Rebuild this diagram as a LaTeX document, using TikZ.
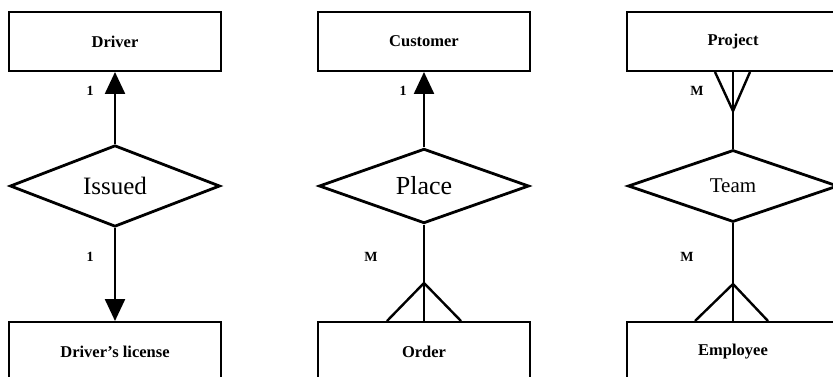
\documentclass[tikz,border=0pt]{standalone}
\usepackage{fontspec}
\setmainfont{Liberation Serif}
\usetikzlibrary{shapes.geometric,arrows.meta,calc}
\begin{document}
\begin{tikzpicture}[x=1pt,y=-1pt,
  entity/.style={draw,line width=2pt,minimum width=212pt,minimum height=59pt,
    inner sep=0pt,font=\bfseries\fontsize{16.5}{18}\selectfont},
  relation/.style={draw,diamond,line width=2.8pt,minimum width=210pt,
    minimum height=72pt,inner sep=0pt},
  link/.style={line width=2.4pt},
  onearrow/.style={link,-{Triangle[width=20pt,length=22pt]}},
  card/.style={font=\bfseries\fontsize{14}{16}\selectfont}
]
\useasboundingbox (0,0) rectangle (833,377);
\fill[white] (0,0) rectangle (833,377);
\clip (0,0) rectangle (833,377);

% --- one-to-one: Driver / Driver's license ---
\node[entity] (driver) at (115,41.5) {Driver};
\node[relation,font=\fontsize{25}{28}\selectfont] (issued) at (115,186) {Issued};
\node[entity] (license) at (115,351.5) {Driver's license};
\draw[onearrow] (issued.north) -- (driver.south);
\draw[onearrow] (issued.south) -- (license.north);
\node[card] (c1) at (90,91) {1};
\node[card] (c2) at (90,257) {1};

% --- one-to-many: Customer / Order ---
\node[entity] (customer) at (424,41.5) {Customer};
\node[relation,font=\fontsize{26}{28}\selectfont] (place) at (424,186) {Place};
\node[entity] (order) at (424,351.5) {Order};
\draw[onearrow] (place.north) -- (customer.south);
\draw[link] (place.south) -- (order.north);
\coordinate (oa) at ($(order.north)+(0,-38)$);
\draw[link] ($(order.north)+(-37,0)$) -- (oa) -- ($(order.north)+(37,0)$);
\node[card] (c3) at (403,91) {1};
\node[card] (c4) at (371,257) {M};

% --- many-to-many: Project / Employee ---
\node[entity] (project) at (733,41.5) {Project};
\node[relation,font=\fontsize{21}{24}\selectfont] (team) at (733,186) {Team};
\node[entity] (employee) at (733,351.5) {Employee};
\draw[link] (team.north) -- (project.south);
\coordinate (pa) at ($(project.south)+(0,39)$);
\draw[link] ($(project.south)+(-18,0)$) -- (pa) -- ($(project.south)+(17,0)$);
\draw[link] (team.south) -- (employee.north);
\coordinate (ea) at ($(employee.north)+(0,-37)$);
\draw[link] ($(employee.north)+(-38,0)$) -- (ea) -- ($(employee.north)+(35,0)$);
\node[card] (c5) at (697,91) {M};
\node[card] (c6) at (687,257) {M};
\end{tikzpicture}
\end{document}
